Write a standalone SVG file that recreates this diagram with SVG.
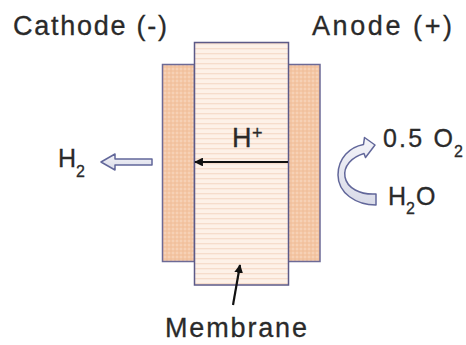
<svg xmlns="http://www.w3.org/2000/svg" width="466" height="345" viewBox="0 0 466 345">
<defs>
<pattern id="dots" width="4" height="4" patternUnits="userSpaceOnUse">
<rect width="4" height="4" fill="#f4c6a4"/>
<circle cx="1" cy="1" r="0.7" fill="#fbe6d6"/>
<circle cx="3" cy="3" r="0.7" fill="#ecb893"/>
</pattern>
<pattern id="stripes" width="6" height="5" patternUnits="userSpaceOnUse">
<rect width="6" height="5" fill="#fdf1e8"/>
<rect y="3" width="6" height="1.3" fill="#f6dccb"/>
</pattern>
<linearGradient id="hollow" x1="0" y1="0" x2="0" y2="1">
<stop offset="0" stop-color="#f4f4f9"/>
<stop offset="1" stop-color="#d9dbe8"/>
</linearGradient>
<marker id="ah" viewBox="0 0 10 10" refX="9" refY="5" markerWidth="4" markerHeight="4" orient="auto">
<path d="M0,0 L10,5 L0,10 z" fill="#111"/>
</marker>
<style>
text{font-family:"Liberation Sans",Arial,sans-serif;fill:#2a2a2a;stroke:#2a2a2a;stroke-width:0.3;}
.lbl{font-size:27px;}
.mid{font-size:25px;}
.sub{font-size:16px;}
.electrode{fill:url(#dots);stroke:#6c6a96;stroke-width:1.5;}
.membrane{fill:url(#stripes);stroke:#5c5a88;stroke-width:1.5;}
.hollow{fill:url(#hollow);stroke:#62679a;stroke-width:1.5;stroke-linejoin:round;}
.pointer{stroke:#111;stroke-width:2.2;fill:none;marker-end:url(#ah);}
</style>
</defs>
<rect width="466" height="345" fill="#fff"/>

<g id="cathode">
<rect class="electrode" x="162.5" y="64.5" width="32" height="197"/>
<text class="lbl" x="13" y="35" textLength="154" lengthAdjust="spacing">Cathode (-)</text>
</g>
<g id="anode">
<rect class="electrode" x="288" y="64.5" width="32" height="197"/>
<text class="lbl" x="312" y="35" textLength="140" lengthAdjust="spacing">Anode (+)</text>
</g>
<g id="membrane">
<rect class="membrane" x="194.5" y="42.5" width="94" height="242.5"/>
<text class="lbl" x="165" y="337" textLength="142" lengthAdjust="spacing">Membrane</text>
</g>
<g id="hplus">
<text class="lbl" x="232" y="147">H</text>
<text x="252" y="139" style="font-size:18px">+</text>
</g>
<g id="h2">
<text class="mid" x="58" y="167">H</text>
<text class="sub" x="76" y="177">2</text>
</g>
<g id="o2">
<text class="mid" x="383" y="147" textLength="70" lengthAdjust="spacing">0.5 O</text>
<text class="sub" x="454" y="157">2</text>
</g>
<g id="h2o">
<text class="mid" x="388" y="205">H</text>
<text class="sub" x="406" y="214">2</text>
<text class="mid" x="416" y="205">O</text>
</g>

<g id="connectors">
<line class="pointer" x1="288" y1="162" x2="195" y2="162"/>
<line class="pointer" x1="233" y1="305" x2="240" y2="265"/>
<path class="hollow" d="M152,159 L115,159 L115,154 L101,162 L115,170 L115,165 L152,165 Z"/>
<path class="hollow" d="M376,194 C360,195 347,188 345,177 C343,166 352,157 364,153.5 L365.5,157.5 L375,145 L364.5,137.5 L363.5,144.5 C350,147 338,158 338,175 C338,193 356,205 376,205 Z"/>
</g>
</svg>
